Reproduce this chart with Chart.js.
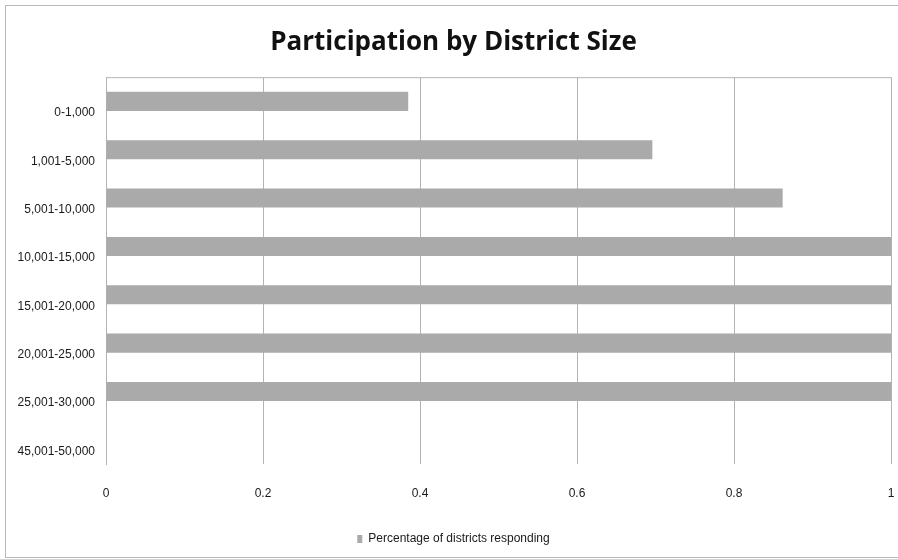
<!DOCTYPE html>
<html>
<head>
<meta charset="utf-8">
<title>Participation by District Size</title>
<script src="https://cdn.jsdelivr.net/npm/chart.js@4.4.0/dist/chart.umd.min.js"></script>
<style>
  html, body { margin: 0; padding: 0; background: #fff; overflow: hidden; }
  #frame {
    position: absolute; left: 5px; top: 5px; width: 910px; height: 551px;
    border: 1px solid #b8b8b8;
  }
  #wrap { position: absolute; left: 0; top: 0; width: 898px; height: 559px; }
</style>
</head>
<body>
<div id="frame"></div>
<div id="wrap"><canvas id="district-chart"></canvas></div>
<script>
// Data
const districtSizes = ['0-1,000', '1,001-5,000', '5,001-10,000', '10,001-15,000',
                       '15,001-20,000', '20,001-25,000', '25,001-30,000', '45,001-50,000'];
const pctResponding = [0.385, 0.696, 0.862, 1, 1, 1, 1, 0];
const xTicks = [0, 0.2, 0.4, 0.6, 0.8, 1];

const labelFont = '"Liberation Sans", Arial, sans-serif';
const gridGray = '#b3b3b3';

// Draws the line along the top of the plot area
const topBorder = {
    id: 'topBorder',
    afterDraw(chart) {
        const { ctx, chartArea } = chart;
        ctx.save();
        ctx.strokeStyle = gridGray;
        ctx.lineWidth = 1;
        ctx.beginPath();
        ctx.moveTo(chartArea.left, chartArea.top + 0.5);
        ctx.lineTo(chartArea.right, chartArea.top + 0.5);
        ctx.stroke();
        ctx.restore();
    }
};

const ctx = document.getElementById('district-chart').getContext('2d');
new Chart(ctx, {
    type: 'bar',
    data: {
        labels: districtSizes,
        datasets: [{
            label: 'Percentage of districts responding',
            data: pctResponding,
            backgroundColor: '#aaaaaa',
            borderWidth: 0,
            categoryPercentage: 1,
            barPercentage: 0.395
        }]
    },
    options: {
        indexAxis: 'y',
        responsive: true,
        maintainAspectRatio: false,
        animation: false,
        layout: { padding: { top: 21, bottom: 4, left: 16, right: 7 } },
        plugins: {
            title: {
                display: true,
                text: 'Participation by District Size',
                color: '#111',
                font: { family: '"Open Sans", Lato, sans-serif', size: 26, weight: 'bold' },
                padding: { top: 6, bottom: 19 }
            },
            legend: {
                position: 'bottom',
                labels: {
                    boxWidth: 5,
                    boxHeight: 8,
                    padding: 10,
                    color: '#1a1a1a',
                    font: { family: labelFont, size: 12 }
                }
            },
            tooltip: { enabled: false }
        },
        scales: {
            x: {
                min: 0,
                max: 1,
                afterBuildTicks: (scale) => { scale.ticks = xTicks.map(v => ({ value: v })); },
                afterFit: (scale) => {
                    scale.height = 59;
                    // tick padding should only push labels down, not squeeze the sides
                    scale.paddingLeft = 0;
                    scale.paddingRight = 0;
                },
                grid: { color: gridGray, drawTicks: false },
                border: { display: false },
                ticks: {
                    padding: 22,
                    color: '#1a1a1a',
                    font: { family: labelFont, size: 12 },
                    callback: (v) => String(v)
                }
            },
            y: {
                afterFit: (scale) => { scale.width = 90; },
                grid: { display: false, drawTicks: false },
                border: { display: true, color: gridGray },
                ticks: {
                    padding: 11,
                    labelOffset: 11.5,
                    autoSkip: false,
                    color: '#1a1a1a',
                    font: { family: labelFont, size: 12 }
                }
            }
        }
    },
    plugins: [topBorder]
});
</script>
</body>
</html>
